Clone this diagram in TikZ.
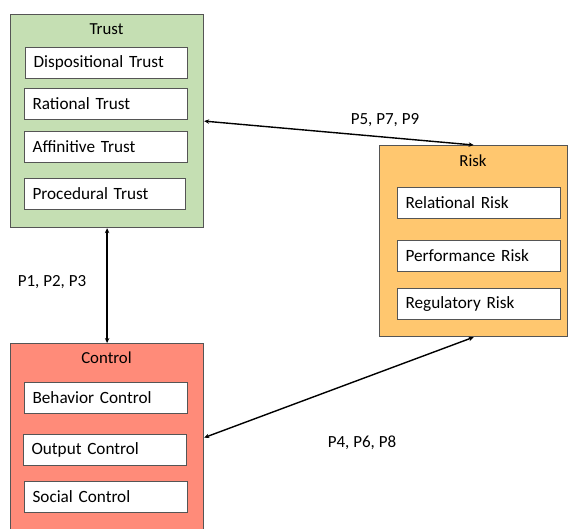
\documentclass[tikz,border=0pt]{standalone}
\usepackage{fontspec}
\setmainfont{Carlito}
\usetikzlibrary{arrows.meta}
\definecolor{trustfill}{HTML}{C5DFB3}
\definecolor{riskfill}{HTML}{FFC76F}
\definecolor{ctrlfill}{HTML}{FF8B79}
\definecolor{frame}{HTML}{555555}
\begin{document}
\begin{tikzpicture}[x=1pt,y=-1pt,
  outer/.style={draw=frame, line width=1.2pt, anchor=north west, inner sep=0pt},
  title/.style={font=\fontsize{16.8}{18}\selectfont, inner sep=0pt},
  inbox/.style={draw=frame, line width=1.1pt, fill=white, anchor=north west, inner xsep=8pt, inner ysep=0pt,
     minimum height=31pt, align=left, font=\fontsize{17.2}{18}\selectfont},
  lbl/.style={font=\fontsize{17}{18}\selectfont, inner sep=0pt},
  arr/.style={line width=1.4pt, {Stealth[length=5pt,width=4.5pt]}-{Stealth[length=5pt,width=4.5pt]}}]
\useasboundingbox (0,0) rectangle (568,528);
\begin{scope}
\clip (0,0) rectangle (568,528);
% Trust
\node[outer, fill=trustfill, minimum width=193pt, minimum height=213pt] (trust) at (10,14) {};
\node[title] (trustt) at (106.5,29) {Trust};
\node[inbox, text width=146pt] (disp) at (25,47) {Dispositional Trust};
\node[inbox, text width=147pt] (rat) at (24,88) {Rational Trust};
\node[inbox, text width=147pt] (aff) at (24,131) {Affinitive Trust};
\node[inbox, text width=145pt] (proc) at (24,178) {Procedural Trust};
% Risk
\node[outer, fill=riskfill, minimum width=188pt, minimum height=191pt] (risk) at (379,145) {};
\node[title] (riskt) at (473,161) {Risk};
\node[inbox, text width=147pt] (rel) at (397,187) {Relational Risk};
\node[inbox, text width=147pt] (perf) at (397,240) {Performance Risk};
\node[inbox, text width=147pt] (reg) at (397,288) {Regulatory Risk};
% Control
\node[outer, fill=ctrlfill, minimum width=193pt, minimum height=188pt] (ctrl) at (10,343) {};
\node[title] (ctrlt) at (106.5,358) {Control};
\node[inbox, text width=147pt] (beh) at (24,382) {Behavior Control};
\node[inbox, text width=147pt] (out) at (23,434) {Output Control};
\node[inbox, text width=147pt] (soc) at (24,481) {Social Control};
\end{scope}
% connectors
\draw[arr] (trust.south) -- (ctrl.north);
\draw[arr] (trust.east) -- (risk.north);
\draw[arr] (risk.south) -- (ctrl.east);
% labels
\node[lbl] (l1) at (52,282) {P1, P2, P3};
\node[lbl] (l2) at (385,120) {P5, P7, P9};
\node[lbl] (l3) at (362,443) {P4, P6, P8};
\end{tikzpicture}
\end{document}
